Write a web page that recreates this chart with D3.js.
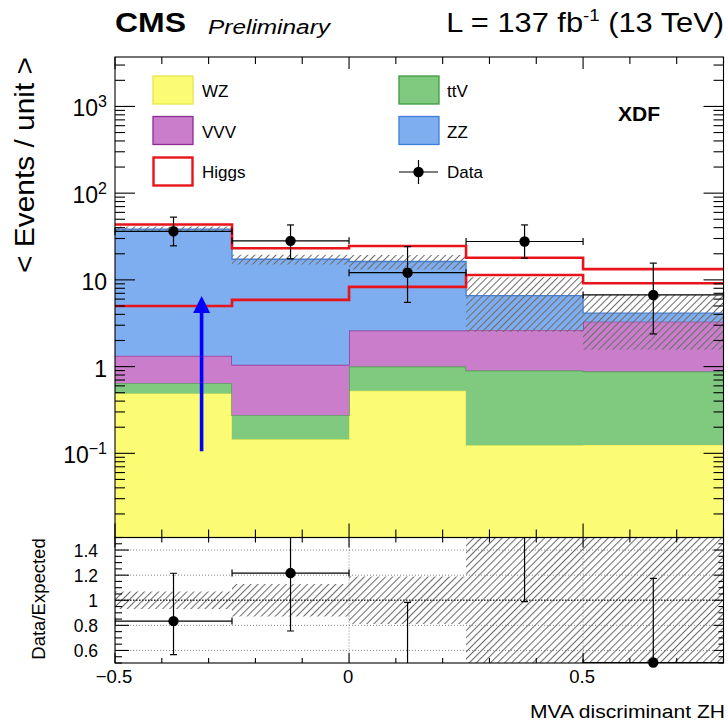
<!DOCTYPE html>
<html><head><meta charset="utf-8">
<script src="https://cdn.jsdelivr.net/npm/d3@7"></script>
<style>
body{margin:0;background:#fff}
svg{display:block}
text{font-family:"Liberation Sans",Arial,Helvetica,sans-serif;fill:#000}
</style>
</head><body><svg id="c" width="728" height="724"></svg>
<script>
// ---------------- data ----------------
const binEdges = [-0.5, -0.25, 0, 0.25, 0.5, 0.8];
const WZ    = [0.49, 0.145, 0.525, 0.124, 0.125];
const ttV   = [0.154, 0.13, 0.475, 0.776, 0.751];
const VVV   = [0.686, 0.775, 1.6, 1.75, 2.424];
const ZZ    = [37.2, 16.25, 13.7, 3.95, 0.83];
const Higgs = [5.0, 5.88, 8.3, 11.4, 9.16];
const bkgRelUnc = [0.07, 0.13, 0.19, 0.62, 0.62];
const dataVal  = [36.3, 28.2, 12.1, 27.7, 6.7];
const dataLow  = [24.7, 17.5, 5.5, 17.8, 2.38];
const dataHigh = [52.9, 43.0, 24.2, 43.0, 15.6];
const xTickValues = [-0.5, 0, 0.5];
const xTickLabels = ["\u22120.5", "0", "0.5"];
const yTickValues = [0.1, 1, 10, 100, 1000];
const yTickLabels = [["10", "\u22121"], ["1", ""], ["10", ""], ["10", "2"], ["10", "3"]];
const ratioTickValues = [0.6, 0.8, 1, 1.2, 1.4];
const ratioTickLabels = ["0.6", "0.8", "1", "1.2", "1.4"];
const arrowSpec = {x: -0.315, from: 0.106, to: 6.5};
const layerKeys = ["WZ", "ttV", "VVV", "ZZ", "Higgs"];
const layerFill   = {WZ: "#fcfc74", ttV: "#80ca80", VVV: "#c97dcb", ZZ: "#7eaef0"};
const layerStroke = {WZ: "#e6e64c", ttV: "#3d9a3d", VVV: "#8e2c96", ZZ: "#3c7fdc"};

// ---------------- layout ----------------
const L = 115, R = 723.5, T = 57, MB = 537.5, RB = 663;
const svg = d3.select("#c");
const x = d3.scaleLinear([-0.5, 0.8], [L, R]);
const y = d3.scaleLog([0.0107, 3715], [MB, T]).clamp(true);
const yr = d3.scaleLinear([0.5, 1.5], [RB, MB]);

const defs = svg.append("defs");
const pat = defs.append("pattern").attr("id", "hatch").attr("width", 5).attr("height", 5)
  .attr("patternUnits", "userSpaceOnUse").attr("patternTransform", "rotate(45)");
pat.append("line").attr("x1", 0.5).attr("y1", 0).attr("x2", 0.5).attr("y2", 5)
  .attr("stroke", "#6e6e6e").attr("stroke-width", 1.1);
defs.append("clipPath").attr("id", "clipMain").append("rect")
  .attr("x", L).attr("y", T).attr("width", R - L).attr("height", MB - T);
defs.append("clipPath").attr("id", "clipRatio").append("rect")
  .attr("x", L).attr("y", MB).attr("width", R - L).attr("height", RB - MB);

// ---------------- stack ----------------
const rows = binEdges.slice(0, -1).map((e, i) => ({WZ: WZ[i], ttV: ttV[i], VVV: VVV[i], ZZ: ZZ[i], Higgs: Higgs[i]}));
const stacked = d3.stack().keys(layerKeys)(rows);
const nb = rows.length;
function steps(valFn) {
  const pts = [];
  for (let i = 0; i < nb; i++) {
    const v = valFn(i);
    pts.push({x: binEdges[i], v}, {x: binEdges[i + 1], v});
  }
  return pts;
}
const sy = v => y(Math.max(v, 1e-4));
const gMain = svg.append("g").attr("clip-path", "url(#clipMain)");
const area = d3.area().x(p => x(p.x)).y0(p => sy(p.v[0])).y1(p => sy(p.v[1]));
const topLine = d3.line().x(p => x(p.x)).y(p => sy(p.v[1]));
stacked.forEach(s => {
  if (s.key === "Higgs") return;
  const pts = steps(i => s[i]);
  gMain.append("path").attr("d", area(pts)).attr("fill", layerFill[s.key]);
  gMain.append("path").attr("d", topLine(pts)).attr("fill", "none")
    .attr("stroke", layerStroke[s.key]).attr("stroke-width", 1.3);
});
// uncertainty band on background
const bkg = rows.map((r, i) => r.WZ + r.ttV + r.VVV + r.ZZ);
const bandPts = steps(i => [bkg[i] * (1 - bkgRelUnc[i]), bkg[i] * (1 + bkgRelUnc[i])]);
gMain.append("path").attr("d", area(bandPts)).attr("fill", "url(#hatch)");
// Higgs stacked & alone
const hs = stacked.find(s => s.key === "Higgs");
gMain.append("path").attr("d", topLine(steps(i => hs[i]))).attr("fill", "none")
  .attr("stroke", "#e8141c").attr("stroke-width", 2.6);
gMain.append("path").attr("d", d3.line().x(p => x(p.x)).y(p => sy(p.v))(steps(i => Higgs[i])))
  .attr("fill", "none").attr("stroke", "#e8141c").attr("stroke-width", 2.6);

// data
const centers = rows.map((r, i) => (binEdges[i] + binEdges[i + 1]) / 2);
const gD = svg.append("g").attr("stroke", "#000").attr("stroke-width", 1.2);
dataVal.forEach((d, i) => {
  const cx = x(centers[i]), cy = y(d);
  gD.append("line").attr("x1", cx).attr("x2", cx).attr("y1", y(dataLow[i])).attr("y2", y(dataHigh[i]));
  gD.append("line").attr("x1", cx - 3.5).attr("x2", cx + 3.5).attr("y1", y(dataLow[i])).attr("y2", y(dataLow[i]));
  gD.append("line").attr("x1", cx - 3.5).attr("x2", cx + 3.5).attr("y1", y(dataHigh[i])).attr("y2", y(dataHigh[i]));
  const xa = x(binEdges[i]), xb = x(binEdges[i + 1]);
  gD.append("line").attr("x1", xa).attr("x2", xb).attr("y1", cy).attr("y2", cy);
  gD.append("line").attr("x1", xa).attr("x2", xa).attr("y1", cy - 3.5).attr("y2", cy + 3.5);
  gD.append("line").attr("x1", xb).attr("x2", xb).attr("y1", cy - 3.5).attr("y2", cy + 3.5);
  svg.append("circle").attr("cx", cx).attr("cy", cy).attr("r", 5.2).attr("fill", "#000");
});

// arrow
{
  const ax = x(arrowSpec.x), tip = y(arrowSpec.to), base = tip + 17;
  svg.append("line").attr("x1", ax).attr("x2", ax).attr("y1", y(arrowSpec.from)).attr("y2", base)
    .attr("stroke", "#0000ff").attr("stroke-width", 3.6);
  svg.append("path").attr("d", `M${ax},${tip}L${ax - 8.5},${base}L${ax + 8.5},${base}Z`).attr("fill", "#0000ff");
}

// ---------------- ratio panel ----------------
const total = rows.map((r, i) => bkg[i] + Higgs[i]);
const gR = svg.append("g").attr("clip-path", "url(#clipRatio)");
const rArea = d3.area().x(p => x(p.x)).y0(p => yr(p.v[0])).y1(p => yr(p.v[1]));
gR.append("path").attr("d", rArea(steps(i => [1 - bkgRelUnc[i], 1 + bkgRelUnc[i]]))).attr("fill", "url(#hatch)");
ratioTickValues.forEach(v => {
  gR.append("line").attr("x1", L).attr("x2", R).attr("y1", yr(v)).attr("y2", yr(v))
    .attr("stroke", v === 1 ? "#333" : "#777").attr("stroke-width", v === 1 ? 1.6 : 0.9)
    .attr("stroke-dasharray", v === 1 ? "1.5,1.5" : "1,2");
});
xTickValues.forEach(v => {
  gR.append("line").attr("x1", x(v)).attr("x2", x(v)).attr("y1", MB).attr("y2", RB)
    .attr("stroke", "#777").attr("stroke-width", 0.9).attr("stroke-dasharray", "1,2");
});
const gRD = gR.append("g").attr("stroke", "#000").attr("stroke-width", 1.2);
dataVal.forEach((d, i) => {
  const cx = x(centers[i]);
  const r = d / total[i], lo = dataLow[i] / total[i], hi = dataHigh[i] / total[i];
  gRD.append("line").attr("x1", cx).attr("x2", cx).attr("y1", yr(lo)).attr("y2", yr(hi));
  [lo, hi].forEach(e => {
    if (e > 0.5 && e < 1.5) gRD.append("line").attr("x1", cx - 3.5).attr("x2", cx + 3.5).attr("y1", yr(e)).attr("y2", yr(e));
  });
  if (r >= 0.5 && r <= 1.5) {
    const cy = yr(r), xa = x(binEdges[i]), xb = x(binEdges[i + 1]);
    gRD.append("line").attr("x1", xa).attr("x2", xb).attr("y1", cy).attr("y2", cy);
    gRD.append("line").attr("x1", xa).attr("x2", xa).attr("y1", cy - 3.5).attr("y2", cy + 3.5);
    gRD.append("line").attr("x1", xb).attr("x2", xb).attr("y1", cy - 3.5).attr("y2", cy + 3.5);
    svg.append("circle").attr("cx", cx).attr("cy", cy).attr("r", 5.2).attr("fill", "#000");
  }
});

// ---------------- frames & ticks ----------------
const gA = svg.append("g").attr("stroke", "#000").attr("stroke-width", 1.1);
gA.append("rect").attr("x", L).attr("y", T).attr("width", R - L).attr("height", MB - T).attr("fill", "none");
gA.append("rect").attr("x", L).attr("y", MB).attr("width", R - L).attr("height", RB - MB).attr("fill", "none");
const isMajX = v => Math.abs(v * 2 - Math.round(v * 2)) < 1e-9;
d3.range(-5, 9).map(k => k / 10).forEach(v => {
  const px = x(v), maj = isMajX(v);
  gA.append("line").attr("x1", px).attr("x2", px).attr("y1", MB).attr("y2", MB - (maj ? 14 : 8));
  gA.append("line").attr("x1", px).attr("x2", px).attr("y1", T).attr("y2", T + (maj ? 12 : 7));
  gA.append("line").attr("x1", px).attr("x2", px).attr("y1", RB).attr("y2", RB - (maj ? 10 : 5));
  gA.append("line").attr("x1", px).attr("x2", px).attr("y1", MB).attr("y2", MB + (maj ? 10 : 5));
});
for (let e = -2; e <= 3; e++) {
  for (let k = 1; k <= 9; k++) {
    const v = k * Math.pow(10, e);
    if (v < 0.0107 || v > 3715) continue;
    const py = y(v), len = k === 1 ? 20 : 10;
    gA.append("line").attr("x1", L).attr("x2", L + len).attr("y1", py).attr("y2", py);
    gA.append("line").attr("x1", R).attr("x2", R - len).attr("y1", py).attr("y2", py);
  }
}
d3.range(10, 31).map(k => k / 20).forEach(v => {
  const py = yr(v), maj = Math.abs(v * 5 - Math.round(v * 5)) < 1e-9 && v > 0.5 && v < 1.5;
  const len = maj ? 14 : 7;
  gA.append("line").attr("x1", L).attr("x2", L + len).attr("y1", py).attr("y2", py);
  gA.append("line").attr("x1", R).attr("x2", R - (maj ? 10 : 5)).attr("y1", py).attr("y2", py);
});

// ---------------- labels ----------------
yTickValues.forEach((v, i) => {
  const [base, sup] = yTickLabels[i];
  const t = svg.append("text").attr("x", 107).attr("y", y(v) + 10).attr("text-anchor", "end").style("font-size", "23px");
  t.append("tspan").text(base);
  if (sup) t.append("tspan").attr("dy", -9).style("font-size", "16px").text(sup);
});
ratioTickValues.forEach((v, i) => {
  svg.append("text").attr("x", 98).attr("y", yr(v) + 7).attr("text-anchor", "end")
    .style("font-size", "17.5px").text(ratioTickLabels[i]);
});
xTickValues.forEach((v, i) => {
  svg.append("text").attr("x", x(v) - 1).attr("y", 683).attr("text-anchor", "middle")
    .style("font-size", "18.5px").text(xTickLabels[i]);
});
svg.append("text").attr("x", 725).attr("y", 718).attr("text-anchor", "end").style("font-size", "19px")
  .attr("textLength", 195).attr("lengthAdjust", "spacingAndGlyphs").text("MVA discriminant ZH");
svg.append("text").attr("transform", "translate(34,165) rotate(-90)").attr("text-anchor", "middle")
  .style("font-size", "28px").attr("textLength", 216).attr("lengthAdjust", "spacingAndGlyphs")
  .text("< Events / unit >");
svg.append("text").attr("transform", "translate(45,599) rotate(-90)").attr("text-anchor", "middle")
  .style("font-size", "18.5px").text("Data/Expected");
svg.append("text").attr("x", 115).attr("y", 32).style("font-size", "27px").style("font-weight", "bold")
  .attr("textLength", 71).attr("lengthAdjust", "spacingAndGlyphs").text("CMS");
svg.append("text").attr("x", 208).attr("y", 34).style("font-size", "20px").style("font-style", "italic")
  .attr("textLength", 122).attr("lengthAdjust", "spacingAndGlyphs").text("Preliminary");
{
  const t = svg.append("text").attr("transform", "translate(724,32) scale(1.1,1)").attr("text-anchor", "end").style("font-size", "28px");
  t.append("tspan").text("L = 137 fb");
  t.append("tspan").attr("dy", -11).style("font-size", "17px").text("-1");
  t.append("tspan").attr("dy", 11).text(" (13 TeV)");
}
svg.append("text").attr("x", 618).attr("y", 121).style("font-size", "21px").style("font-weight", "bold").text("XDF");

// ---------------- legend ----------------
const legendEntries = [
  {label: "WZ", key: "WZ", col: 0, row: 0},
  {label: "ttV", key: "ttV", col: 1, row: 0},
  {label: "VVV", key: "VVV", col: 0, row: 1},
  {label: "ZZ", key: "ZZ", col: 1, row: 1},
  {label: "Higgs", key: "Higgs", col: 0, row: 2},
  {label: "Data", key: "Data", col: 1, row: 2}
];
const colX = [153, 399], rowY = [76, 116.5, 157];
legendEntries.forEach(e => {
  const bx = colX[e.col], by = rowY[e.row];
  if (e.key === "Data") {
    const cy = by + 15;
    svg.append("line").attr("x1", bx).attr("x2", bx + 39).attr("y1", cy).attr("y2", cy).attr("stroke", "#000").attr("stroke-width", 1.2);
    svg.append("line").attr("x1", bx + 19.5).attr("x2", bx + 19.5).attr("y1", cy - 12).attr("y2", cy + 12).attr("stroke", "#000").attr("stroke-width", 1.2);
    svg.append("circle").attr("cx", bx + 19.5).attr("cy", cy).attr("r", 5.2).attr("fill", "#000");
  } else if (e.key === "Higgs") {
    svg.append("rect").attr("x", bx + 0.5).attr("y", by + 0.5).attr("width", 39).attr("height", 28)
      .attr("fill", "#fff").attr("stroke", "#e8141c").attr("stroke-width", 2.4);
  } else {
    svg.append("rect").attr("x", bx).attr("y", by).attr("width", 40).attr("height", 28)
      .attr("fill", layerFill[e.key]).attr("stroke", layerStroke[e.key]).attr("stroke-width", 1.3);
  }
  svg.append("text").attr("x", bx + (e.col === 0 ? 49 : 48)).attr("y", by + 21).style("font-size", "17px").text(e.label);
});
</script>
</body></html>
